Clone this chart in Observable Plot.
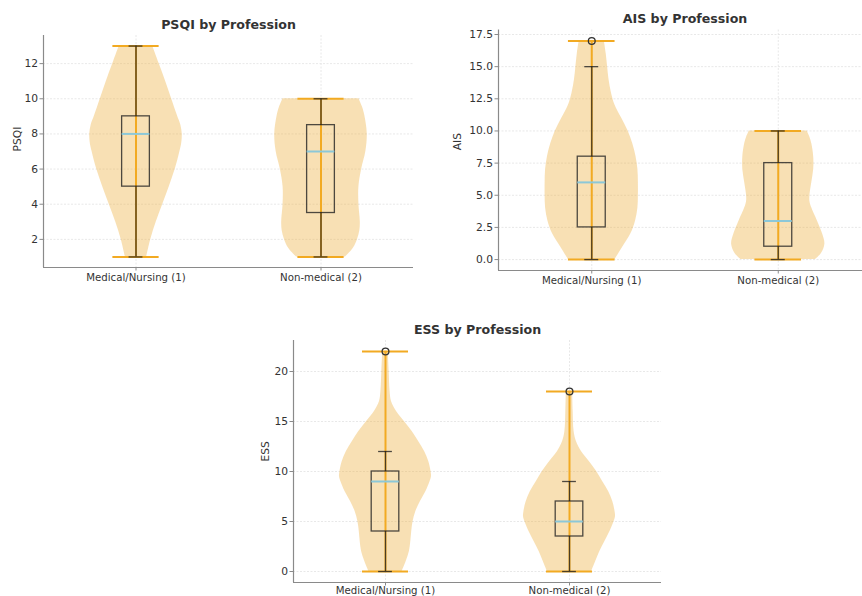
<!DOCTYPE html>
<html><head><meta charset="utf-8">
<script src="https://cdn.jsdelivr.net/npm/d3@7"></script>
<script src="https://cdn.jsdelivr.net/npm/@observablehq/plot@0.6"></script>
<style>
html,body{margin:0;padding:0;background:#fff;overflow:hidden;width:862px;height:596px;}
#wrap{position:relative;width:862px;height:596px;overflow:hidden;}
.panel{position:absolute;}
.panel svg{display:block;overflow:visible;max-width:none !important;}
</style></head><body><div id="wrap"></div>
<script>
const categories = ["Medical/Nursing (1)", "Non-medical (2)"];
const positions = [1, 2];

// PSQI
const psqiTicks = [2, 4, 6, 8, 10, 12];
const psqiMin = [1, 1];
const psqiMax = [13, 10];
const psqiQ1 = [5, 3.5];
const psqiMedian = [8, 7];
const psqiQ3 = [9, 8.5];
const psqiWhiskerLo = [1, 1];
const psqiWhiskerHi = [13, 10];
const psqiFliers = [[], []];
// [value, relative violin width]
const psqiViolinMedical = [[13,.36],[12,.5],[11,.64],[10,.77],[9,.9],[8.5,.97],[8,1],[7.5,.99],[7,.95],[6,.85],[5,.72],[4,.58],[3,.44],[2,.32],[1,.23]];
const psqiViolinNonMedical = [[10,.82],[9.5,.9],[9,.95],[8,1],[7,.97],[6,.88],[5,.82],[4,.82],[3,.85],[2.5,.84],[2,.79],[1.5,.7],[1,.53]];

// AIS
const aisTicks = [0, 2.5, 5, 7.5, 10, 12.5, 15, 17.5];
const aisMin = [0, 0];
const aisMax = [17, 10];
const aisQ1 = [2.5, 1];
const aisMedian = [6, 3];
const aisQ3 = [8, 7.5];
const aisWhiskerLo = [0, 0];
const aisWhiskerHi = [15, 10];
const aisFliers = [[17], []];
const aisViolinMedical = [[17,.27],[16,.31],[15,.34],[14,.37],[13,.42],[12,.5],[11,.64],[10,.78],[9,.88],[8,.95],[7,.99],[6,1],[5,1],[4,.99],[3,.94],[2,.84],[1,.67],[0,.5]];
const aisViolinNonMedical = [[10,.62],[9.5,.68],[9,.72],[8,.76],[7,.76],[6,.72],[5,.68],[4.5,.68],[4,.72],[3,.84],[2,.95],[1.2,1],[0.5,.93],[0,.8]];

// ESS
const essTicks = [0, 5, 10, 15, 20];
const essMin = [0, 0];
const essMax = [22, 18];
const essQ1 = [4, 3.5];
const essMedian = [9, 5];
const essQ3 = [10, 7];
const essWhiskerLo = [0, 0];
const essWhiskerHi = [12, 9];
const essFliers = [[22], [18]];
const essViolinMedical = [[22,.06],[20,.08],[18,.1],[17,.13],[16,.24],[15,.41],[14,.58],[13,.72],[12,.85],[11,.94],[10,.99],[9.5,1],[9,.97],[8,.88],[7,.76],[6,.66],[5,.6],[4,.57],[3,.55],[2,.52],[1,.45],[0,.36]];
const essViolinNonMedical = [[18,.07],[16,.08],[14,.1],[13,.15],[12,.26],[11,.43],[10,.59],[9,.72],[8,.85],[7,.94],[6,.99],[5.5,1],[5,.97],[4,.88],[3,.77],[2,.66],[1,.57],[0,.48]];

const ORANGE = "#f2aa22";
const VFILL = "#eeb244";
const MEDIAN = "#8cc8d8";
const BOX = "#222";
const SPINE = "#8a8a8a";
const TEXT = "#333";
const GRID = "#e2e2e2";

function panel(cfg) {
  const boxHalf = 0.075, capHalf = 0.0375, extHalf = 0.125, vHalf = 0.25;
  const stats = positions.map((pos, i) => ({
    pos, min: cfg.mins[i], max: cfg.maxs[i], q1: cfg.q1[i], med: cfg.med[i],
    q3: cfg.q3[i], lo: cfg.wlo[i], hi: cfg.whi[i]
  }));
  const flierRows = cfg.fliers.flatMap((f, i) => f.map(v => ({pos: positions[i], v})));
  const boxLine = {stroke: BOX, strokeOpacity: 0.8, strokeWidth: 1.3};
  return Plot.plot({
    width: cfg.width, height: cfg.height,
    marginLeft: cfg.mL, marginRight: cfg.mR, marginTop: cfg.mT, marginBottom: cfg.mB,
    x: {domain: [0.5, 2.5]},
    y: {domain: cfg.yDomain},
    style: {fontFamily: "DejaVu Sans", fontSize: "10.7px", color: TEXT, background: "transparent", maxWidth: "none"},
    marks: [
      Plot.gridY(cfg.ticks, {stroke: GRID, strokeOpacity: 1, strokeDasharray: "2,1.5", strokeWidth: 0.8}),
      Plot.gridX(positions, {stroke: GRID, strokeOpacity: 1, strokeDasharray: "2,1.5", strokeWidth: 0.8}),
      ...cfg.violins.map((prof, i) => Plot.areaX(prof, {
        y: d => d[0],
        x1: d => positions[i] - vHalf * d[1],
        x2: d => positions[i] + vHalf * d[1],
        curve: "catmull-rom", fill: VFILL, fillOpacity: 0.4
      })),
      Plot.ruleX(stats, {x: "pos", y1: "min", y2: "max", stroke: ORANGE, strokeWidth: 2}),
      Plot.ruleY(stats, {y: "min", x1: d => d.pos - extHalf, x2: d => d.pos + extHalf, stroke: ORANGE, strokeWidth: 2}),
      Plot.ruleY(stats, {y: "max", x1: d => d.pos - extHalf, x2: d => d.pos + extHalf, stroke: ORANGE, strokeWidth: 2}),
      Plot.rect(stats, {x1: d => d.pos - boxHalf, x2: d => d.pos + boxHalf, y1: "q1", y2: "q3", fill: "none", ...boxLine}),
      Plot.ruleX(stats, {x: "pos", y1: "q3", y2: "hi", ...boxLine}),
      Plot.ruleX(stats, {x: "pos", y1: "lo", y2: "q1", ...boxLine}),
      Plot.ruleY(stats, {y: "hi", x1: d => d.pos - capHalf, x2: d => d.pos + capHalf, ...boxLine}),
      Plot.ruleY(stats, {y: "lo", x1: d => d.pos - capHalf, x2: d => d.pos + capHalf, ...boxLine}),
      Plot.ruleY(stats, {y: "med", x1: d => d.pos - boxHalf, x2: d => d.pos + boxHalf, stroke: MEDIAN, strokeWidth: 2}),
      Plot.dot(flierRows, {x: "pos", y: "v", r: 3.4, stroke: "#333", fill: "none", strokeWidth: 1.3}),
      Plot.ruleX([0.5], {stroke: SPINE, strokeWidth: 1.2}),
      Plot.ruleY([cfg.yDomain[0]], {stroke: SPINE, strokeWidth: 1.2}),
      Plot.axisY(cfg.ticks, {tickFormat: cfg.tickFormat, tickSize: 3.5, tickPadding: 2, label: null, stroke: SPINE, fill: TEXT, fontSize: 10.7}),
      Plot.axisX(positions, {tickFormat: d => categories[positions.indexOf(d)], tickSize: 3.5, tickPadding: cfg.xPad, label: null, stroke: SPINE, fill: TEXT, fontSize: 10.2}),
      Plot.text([cfg.name], {frameAnchor: "left", rotate: -90, dx: cfg.labelDx, lineAnchor: "middle", fill: TEXT, fontSize: 10.7}),
      Plot.text([`${cfg.name} by Profession`], {frameAnchor: "top", dy: cfg.titleDy, lineAnchor: "middle", fontWeight: "bold", fontSize: 12.6, fill: TEXT})
    ]
  });
}

const wrap = document.getElementById("wrap");
function place(svg, left, top, w, h) {
  const d = document.createElement("div");
  d.className = "panel";
  d.style.left = left + "px";
  d.style.top = top + "px";
  d.style.width = w + "px";
  d.style.height = h + "px";
  svg.style.maxWidth = "none";
  d.appendChild(svg);
  wrap.appendChild(d);
}

place(panel({
  name: "PSQI", ticks: psqiTicks, tickFormat: d => String(d), yDomain: [0.4, 13.6],
  width: 431, height: 290, mL: 43, mR: 18, mT: 35, mB: 23,
  violins: [psqiViolinMedical, psqiViolinNonMedical],
  mins: psqiMin, maxs: psqiMax, q1: psqiQ1, med: psqiMedian, q3: psqiQ3,
  wlo: psqiWhiskerLo, whi: psqiWhiskerHi, fliers: psqiFliers,
  labelDx: -26, titleDy: -11, xPad: 2.5
}), 0, 0, 431, 290);

place(panel({
  name: "AIS", ticks: aisTicks, tickFormat: d => d.toFixed(1), yDomain: [-0.85, 17.85],
  width: 440, height: 290, mL: 58, mR: 9, mT: 29.5, mB: 20,
  violins: [aisViolinMedical, aisViolinNonMedical],
  mins: aisMin, maxs: aisMax, q1: aisQ1, med: aisMedian, q3: aisQ3,
  wlo: aisWhiskerLo, whi: aisWhiskerHi, fliers: aisFliers,
  labelDx: -41, titleDy: -11.5, xPad: 2.5
}), 440, 0, 440, 290);

place(panel({
  name: "ESS", ticks: essTicks, tickFormat: d => String(d), yDomain: [-1.1, 23.1],
  width: 440, height: 296, mL: 53, mR: 19, mT: 40, mB: 14,
  violins: [essViolinMedical, essViolinNonMedical],
  mins: essMin, maxs: essMax, q1: essQ1, med: essMedian, q3: essQ3,
  wlo: essWhiskerLo, whi: essWhiskerHi, fliers: essFliers,
  labelDx: -28, titleDy: -11, xPad: 0.5
}), 240, 300, 440, 296);
</script></body></html>
